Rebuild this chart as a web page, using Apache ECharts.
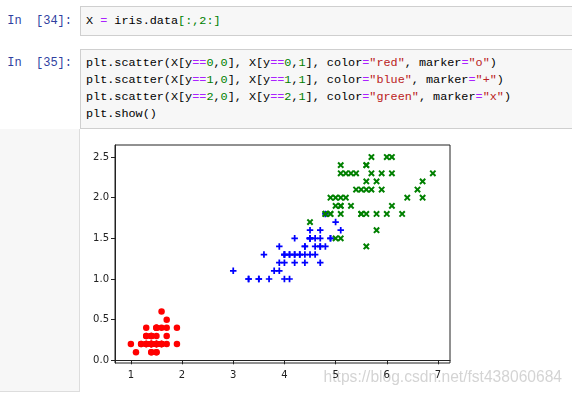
<!DOCTYPE html>
<html>
<head>
<meta charset="utf-8">
<script src="https://cdn.jsdelivr.net/npm/echarts@6/dist/echarts.min.js"></script>
<style>
  html, body { margin: 0; padding: 0; background: #fff; }
  body { width: 572px; height: 397px; position: relative; overflow: hidden; }
  .prompt {
    position: absolute; left: 0; width: 72px; text-align: right;
    font-family: "Liberation Mono", monospace; font-size: 12px; color: #303F9F;
    line-height: 17px;
  }
  .cell {
    position: absolute; left: 80px; right: -2px;
    background: #f7f7f7; border: 1px solid #cfcfcf; box-sizing: border-box;
    padding: 5px 0 0 5px;
    font-family: "Liberation Mono", monospace; font-size: 11.8px; line-height: 17px;
    color: #000; white-space: pre;
  }
  .op { color: #AA22FF; }
  .num { color: #008000; }
  .str { color: #BA2121; }
  .brk { color: #008000; }
  #outPrompt {
    position: absolute; left: 0; top: 129px; width: 79px; height: 262px;
    background: #f7f7f7; border-right: 1px solid #ddd; border-bottom: 1px solid #ddd;
  }
  #chart { position: absolute; left: 0; top: 0; width: 572px; height: 397px; }
</style>
</head>
<body>
<div class="prompt" style="top:13px">In&nbsp;&nbsp;[34]:</div>
<div class="cell" style="top:6px;height:30px;padding-top:6px">X <span class="op">=</span> iris.data<span class="brk">[:,2:]</span></div>
<div class="prompt" style="top:55px">In&nbsp;&nbsp;[35]:</div>
<div class="cell" style="top:49px;height:80px">plt.scatter(X[y<span class="op">==</span><span class="num">0</span>,<span class="num">0</span>], X[y<span class="op">==</span><span class="num">0</span>,<span class="num">1</span>], color<span class="op">=</span><span class="str">"red"</span>, marker<span class="op">=</span><span class="str">"o"</span>)
plt.scatter(X[y<span class="op">==</span><span class="num">1</span>,<span class="num">0</span>], X[y<span class="op">==</span><span class="num">1</span>,<span class="num">1</span>], color<span class="op">=</span><span class="str">"blue"</span>, marker<span class="op">=</span><span class="str">"+"</span>)
plt.scatter(X[y<span class="op">==</span><span class="num">2</span>,<span class="num">0</span>], X[y<span class="op">==</span><span class="num">2</span>,<span class="num">1</span>], color<span class="op">=</span><span class="str">"green"</span>, marker<span class="op">=</span><span class="str">"x"</span>)
plt.show()</div>
<div id="outPrompt"></div>
<div id="chart"></div>
<script>
// iris petal length / petal width, per class
var setosaLen = [1.4, 1.4, 1.3, 1.5, 1.4, 1.7, 1.4, 1.5, 1.4, 1.5, 1.5, 1.6, 1.4, 1.1, 1.2, 1.5, 1.3, 1.4, 1.7, 1.5,
  1.7, 1.5, 1.0, 1.7, 1.9, 1.6, 1.6, 1.5, 1.4, 1.6, 1.6, 1.5, 1.5, 1.4, 1.5, 1.2, 1.3, 1.4, 1.3, 1.5,
  1.3, 1.3, 1.3, 1.6, 1.9, 1.4, 1.6, 1.4, 1.5, 1.4]
var setosaWid = [0.2, 0.2, 0.2, 0.2, 0.2, 0.4, 0.3, 0.2, 0.2, 0.1, 0.2, 0.2, 0.1, 0.1, 0.2, 0.4, 0.4, 0.3, 0.3, 0.3,
  0.2, 0.4, 0.2, 0.5, 0.2, 0.2, 0.4, 0.2, 0.2, 0.2, 0.2, 0.4, 0.1, 0.2, 0.2, 0.2, 0.2, 0.1, 0.2, 0.2,
  0.3, 0.3, 0.2, 0.6, 0.4, 0.3, 0.2, 0.2, 0.2, 0.2]
var versicolorLen = [4.7, 4.5, 4.9, 4.0, 4.6, 4.5, 4.7, 3.3, 4.6, 3.9, 3.5, 4.2, 4.0, 4.7, 3.6, 4.4, 4.5, 4.1, 4.5, 3.9,
  4.8, 4.0, 4.9, 4.7, 4.3, 4.4, 4.8, 5.0, 4.5, 3.5, 3.8, 3.7, 3.9, 5.1, 4.5, 4.5, 4.7, 4.4, 4.1, 4.0,
  4.4, 4.6, 4.0, 3.3, 4.2, 4.2, 4.2, 4.3, 3.0, 4.1]
var versicolorWid = [1.4, 1.5, 1.5, 1.3, 1.5, 1.3, 1.6, 1.0, 1.3, 1.4, 1.0, 1.5, 1.0, 1.4, 1.3, 1.4, 1.5, 1.0, 1.5, 1.1,
  1.8, 1.3, 1.5, 1.2, 1.3, 1.4, 1.4, 1.7, 1.5, 1.0, 1.1, 1.0, 1.2, 1.6, 1.5, 1.6, 1.5, 1.3, 1.3, 1.3,
  1.2, 1.4, 1.2, 1.0, 1.3, 1.2, 1.3, 1.3, 1.1, 1.3]
var virginicaLen = [6.0, 5.1, 5.9, 5.6, 5.8, 6.6, 4.5, 6.3, 5.8, 6.1, 5.1, 5.3, 5.5, 5.0, 5.1, 5.3, 5.5, 6.7, 6.9, 5.0,
  5.7, 4.9, 6.7, 4.9, 5.7, 6.0, 4.8, 4.9, 5.6, 5.8, 6.1, 6.4, 5.6, 5.1, 5.6, 6.1, 5.6, 5.5, 4.8, 5.4,
  5.6, 5.1, 5.1, 5.9, 5.7, 5.2, 5.0, 5.2, 5.4, 5.1]
var virginicaWid = [2.5, 1.9, 2.1, 1.8, 2.2, 2.1, 1.7, 1.8, 1.8, 2.5, 2.0, 1.9, 2.1, 2.0, 2.4, 2.3, 1.8, 2.2, 2.3, 1.5,
  2.3, 2.0, 2.0, 1.8, 2.1, 1.8, 1.8, 1.8, 2.1, 1.6, 1.9, 2.0, 2.2, 1.5, 1.4, 2.3, 2.4, 1.8, 1.8, 2.1,
  2.4, 2.3, 1.9, 2.3, 2.5, 2.3, 1.9, 2.0, 2.3, 1.8]

var xTicks = [1, 2, 3, 4, 5, 6, 7]
var yTicks = [0, 0.5, 1, 1.5, 2, 2.5]

function pairs(xs, ys) {
  return xs.map(function(v, i) { return [v, ys[i]] })
}

// plus shape; rotated 45deg it becomes the "x" marker
var plusPath = 'path://M2.2,0H3.8V2.2H6V3.8H3.8V6H2.2V3.8H0V2.2H2.2Z'

var chart = echarts.init(document.getElementById('chart'))
chart.setOption({
  animation: false,
  textStyle: { fontFamily: 'DejaVu Sans' },
  grid: {
    left: 115, top: 145, width: 335, height: 218,
    show: true, borderColor: '#222', borderWidth: 1, backgroundColor: '#fff'
  },
  xAxis: {
    type: 'value', min: 0.69, max: 7.235,
    splitLine: { show: false },
    axisLine: { show: true, lineStyle: { color: '#222' } },
    axisTick: { show: true, length: 4, lineStyle: { color: '#222' }, customValues: xTicks },
    axisLabel: { color: '#222', fontSize: 10, margin: 7, customValues: xTicks }
  },
  yAxis: {
    type: 'value', min: -0.033, max: 2.648,
    splitLine: { show: false },
    axisLine: { show: true, lineStyle: { color: '#222' } },
    axisTick: { show: true, length: 4, lineStyle: { color: '#222' }, customValues: yTicks },
    axisLabel: {
      color: '#222', fontSize: 10, margin: 6, customValues: yTicks,
      formatter: function(v) { return v.toFixed(1) }
    }
  },
  graphic: [{
    type: 'text', right: 10, top: 370,
    style: {
      text: 'https://blog.csdn.net/fst438060684',
      font: '15.6px "Liberation Sans"', fill: '#d4d4d4'
    }
  }],
  series: [
    {
      type: 'scatter', data: pairs(setosaLen, setosaWid),
      symbol: 'circle', symbolSize: 6.5,
      itemStyle: { color: '#ff0000', opacity: 1 }
    },
    {
      type: 'scatter', data: pairs(versicolorLen, versicolorWid),
      symbol: plusPath, symbolSize: 6.5,
      itemStyle: { color: '#0000ff', opacity: 1 }
    },
    {
      type: 'scatter', data: pairs(virginicaLen, virginicaWid),
      symbol: plusPath, symbolSize: 7.5, symbolRotate: 45,
      itemStyle: { color: '#008000', opacity: 1 }
    }
  ]
})
</script>
</body>
</html>
